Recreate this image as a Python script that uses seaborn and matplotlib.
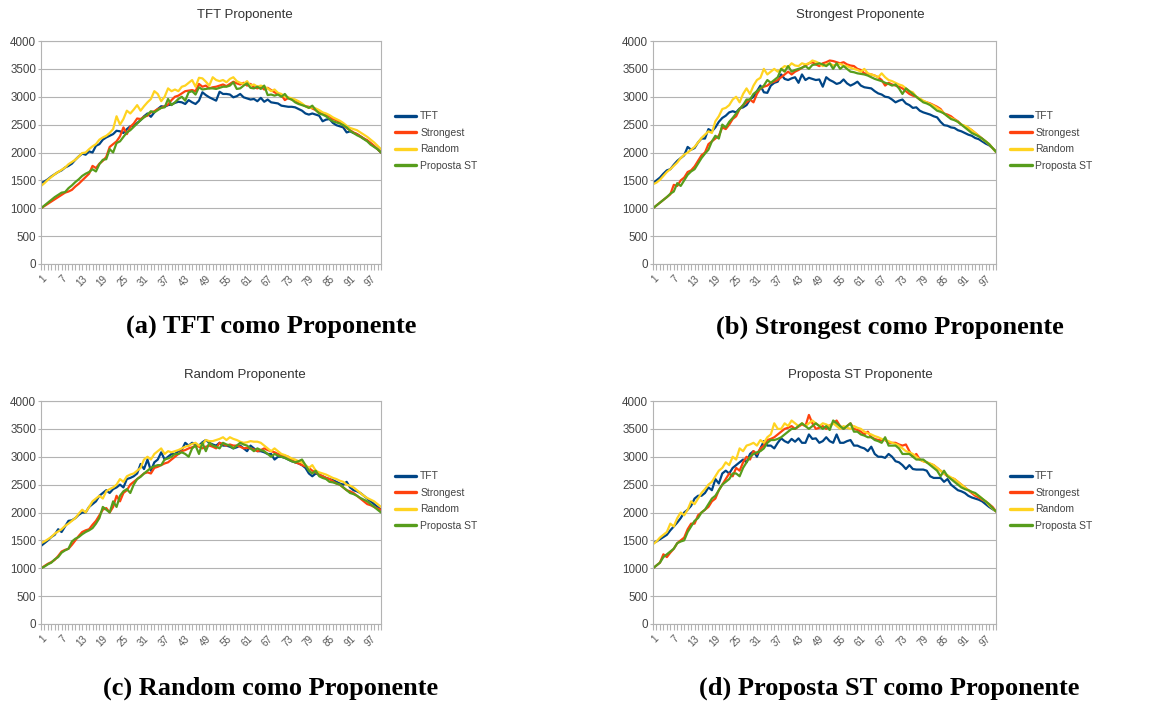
import numpy as np
import pandas as pd
import matplotlib
matplotlib.use("Agg")
import matplotlib.pyplot as plt
import seaborn as sns

# ---------------- data ----------------
series_names = ["TFT", "Strongest", "Random", "Proposta ST"]
panel_titles = ["TFT Proponente", "Strongest Proponente", "Random Proponente", "Proposta ST Proponente"]
captions = ["(a) TFT como Proponente", "(b) Strongest como Proponente",
            "(c) Random como Proponente", "(d) Proposta ST como Proponente"]
rounds = list(range(1, 101))
tick_labels = [str(v) for v in range(1, 101, 6)]

# Panel (a) TFT Proponente
a_tft = [1450, 1480, 1520, 1570, 1610, 1650, 1680, 1730, 1760, 1800,
         1870, 1930, 1980, 1960, 2020, 2000, 2120, 2150, 2230, 2270,
         2300, 2330, 2390, 2380, 2350, 2420, 2470, 2480, 2530, 2580,
         2650, 2700, 2640, 2720, 2780, 2830, 2820, 2850, 2860, 2890,
         2910, 2900, 2870, 2940, 2900, 2870, 2930, 3080, 3030, 2990,
         2960, 2930, 3090, 3050, 3050, 3040, 2990, 3010, 3050, 2990,
         2970, 2950, 2960, 2920, 2980, 2910, 2950, 2900, 2890, 2880,
         2840, 2830, 2820, 2820, 2810, 2780, 2750, 2700, 2680, 2700,
         2680, 2660, 2560, 2590, 2600, 2530, 2490, 2470, 2450, 2360,
         2380, 2350, 2330, 2290, 2250, 2210, 2160, 2110, 2060, 2000]
a_strongest = [1000, 1040, 1080, 1120, 1160, 1200, 1240, 1280, 1300, 1330,
               1390, 1440, 1500, 1560, 1620, 1760, 1720, 1800, 1850, 1920,
               2100, 2150, 2200, 2290, 2450, 2330, 2460, 2520, 2610, 2600,
               2640, 2660, 2720, 2740, 2780, 2800, 2830, 2860, 2940, 3000,
               3020, 3060, 3100, 3110, 3120, 3100, 3230, 3180, 3200, 3150,
               3170, 3180, 3200, 3220, 3190, 3230, 3270, 3240, 3220, 3250,
               3200, 3230, 3170, 3150, 3180, 3130, 3160, 3120, 3080, 3050,
               3030, 2940, 2980, 2950, 2940, 2900, 2860, 2830, 2820, 2790,
               2760, 2720, 2700, 2680, 2650, 2600, 2580, 2540, 2490, 2440,
               2400, 2360, 2330, 2290, 2250, 2220, 2170, 2120, 2060, 2000]
a_random = [1400, 1450, 1510, 1560, 1610, 1650, 1690, 1730, 1790, 1830,
            1870, 1930, 1990, 2000, 2060, 2110, 2150, 2230, 2270, 2300,
            2350, 2420, 2650, 2500, 2600, 2750, 2700, 2770, 2850, 2750,
            2830, 2900, 2960, 3100, 3050, 2920, 3000, 3150, 3100, 3130,
            3100, 3180, 3200, 3250, 3300, 3180, 3340, 3330, 3270, 3200,
            3350, 3300, 3280, 3300, 3260, 3320, 3350, 3280, 3250, 3230,
            3280, 3200, 3220, 3180, 3200, 3180, 3150, 3100, 3130, 3070,
            3050, 3000, 2990, 2970, 2950, 2920, 2880, 2830, 2800, 2810,
            2790, 2760, 2720, 2700, 2670, 2630, 2600, 2570, 2530, 2480,
            2440, 2420, 2400, 2360, 2320, 2280, 2230, 2180, 2120, 2060]
a_proposta = [1000, 1050, 1100, 1150, 1200, 1240, 1280, 1290, 1360, 1410,
              1470, 1520, 1580, 1620, 1650, 1700, 1660, 1790, 1870, 1880,
              2060, 2000, 2170, 2200, 2280, 2360, 2400, 2460, 2520, 2580,
              2630, 2680, 2740, 2720, 2760, 2800, 2810, 2960, 2850, 2900,
              2960, 3000, 2930, 3080, 3100, 3040, 3170, 3130, 3140, 3150,
              3150, 3140, 3160, 3180, 3180, 3200, 3260, 3140, 3150, 3200,
              3240, 3160, 3150, 3180, 3140, 3200, 3030, 3040, 3020, 3040,
              3000, 3050, 2970, 2950, 2900, 2870, 2850, 2830, 2800, 2840,
              2760, 2700, 2680, 2650, 2600, 2560, 2540, 2520, 2490, 2450,
              2390, 2350, 2310, 2280, 2240, 2200, 2140, 2100, 2060, 2000]

# Panel (b) Strongest Proponente
b_tft = [1450, 1500, 1550, 1620, 1680, 1700, 1780, 1850, 1900, 1950,
         2100, 2050, 2080, 2180, 2250, 2250, 2420, 2380, 2450, 2550,
         2620, 2660, 2720, 2740, 2720, 2790, 2810, 2850, 2950, 3000,
         3100, 3200, 3080, 3070, 3200, 3250, 3270, 3400, 3320, 3300,
         3330, 3350, 3250, 3400, 3300, 3340, 3320, 3300, 3310, 3180,
         3350, 3300, 3270, 3230, 3250, 3310, 3240, 3200, 3230, 3270,
         3200, 3170, 3160, 3150, 3100, 3060, 3040, 3000, 2990, 2950,
         2900, 2930, 2950, 2880, 2850, 2800, 2810, 2750, 2720, 2700,
         2680, 2650, 2630, 2550, 2490, 2480, 2450, 2440, 2400, 2380,
         2350, 2320, 2300, 2260, 2240, 2200, 2160, 2130, 2080, 2020]
b_strongest = [1000, 1050, 1100, 1150, 1200, 1250, 1420, 1400, 1500, 1550,
               1650, 1680, 1750, 1850, 1950, 2000, 2150, 2200, 2250, 2300,
               2450, 2420, 2500, 2600, 2650, 2780, 2850, 2900, 2950, 2900,
               3050, 3150, 3180, 3200, 3250, 3270, 3300, 3350, 3400, 3450,
               3400, 3450, 3480, 3520, 3560, 3600, 3620, 3580, 3550, 3600,
               3620, 3650, 3640, 3620, 3600, 3620, 3580, 3560, 3550, 3500,
               3480, 3420, 3410, 3400, 3380, 3350, 3300, 3200, 3250, 3220,
               3200, 3180, 3150, 3100, 3050, 3020, 3000, 2950, 2920, 2900,
               2880, 2850, 2820, 2780, 2700, 2680, 2650, 2600, 2560, 2500,
               2470, 2440, 2400, 2350, 2300, 2250, 2200, 2150, 2080, 2010]
b_random = [1430, 1460, 1510, 1580, 1650, 1700, 1760, 1820, 1900, 1960,
            2000, 2050, 2100, 2180, 2260, 2320, 2380, 2350, 2560, 2650,
            2780, 2800, 2850, 2950, 3000, 2900, 3050, 3150, 3050, 3200,
            3300, 3340, 3500, 3400, 3450, 3500, 3450, 3500, 3550, 3530,
            3600, 3560, 3550, 3600, 3580, 3600, 3650, 3630, 3600, 3550,
            3580, 3600, 3560, 3580, 3590, 3560, 3550, 3520, 3500, 3480,
            3450, 3500, 3420, 3400, 3380, 3350, 3420, 3350, 3300, 3280,
            3250, 3220, 3200, 3150, 3100, 3080, 3000, 2970, 2930, 2900,
            2870, 2840, 2800, 2760, 2700, 2650, 2620, 2590, 2550, 2500,
            2480, 2450, 2400, 2350, 2300, 2240, 2200, 2150, 2080, 2010]
b_proposta = [1000, 1050, 1100, 1150, 1200, 1260, 1300, 1450, 1400, 1500,
              1600, 1660, 1700, 1800, 1900, 1980, 2050, 2200, 2300, 2250,
              2500, 2450, 2550, 2620, 2700, 2780, 2850, 2950, 2950, 3050,
              3100, 3150, 3200, 3300, 3250, 3300, 3350, 3500, 3450, 3550,
              3450, 3480, 3500, 3520, 3550, 3500, 3570, 3580, 3600, 3580,
              3550, 3600, 3500, 3600, 3500, 3550, 3500, 3450, 3440, 3420,
              3410, 3400, 3380, 3350, 3320, 3300, 3280, 3250, 3230, 3200,
              3220, 3150, 3050, 3150, 3100, 3050, 3000, 2950, 2900, 2880,
              2850, 2800, 2750, 2730, 2700, 2650, 2600, 2580, 2550, 2500,
              2450, 2400, 2350, 2320, 2290, 2250, 2200, 2150, 2080, 2010]

# Panel (c) Random Proponente
c_tft = [1400, 1450, 1500, 1560, 1600, 1700, 1650, 1750, 1850, 1860,
         1900, 1960, 2000, 2000, 2100, 2150, 2200, 2300, 2350, 2400,
         2350, 2420, 2450, 2500, 2450, 2600, 2620, 2650, 2700, 2870,
         2780, 2950, 2750, 2900, 2950, 3080, 2950, 3000, 3050, 3050,
         3100, 3120, 3250, 3200, 3250, 3220, 3200, 3260, 3300, 3250,
         3220, 3200, 3250, 3200, 3200, 3180, 3150, 3170, 3200, 3150,
         3100, 3200, 3150, 3100, 3100, 3080, 3050, 3050, 2950, 3000,
         3000, 2980, 2950, 2920, 2900, 2880, 2850, 2800, 2700, 2650,
         2700, 2680, 2650, 2620, 2600, 2580, 2550, 2520, 2500, 2550,
         2450, 2400, 2380, 2350, 2300, 2250, 2200, 2150, 2100, 2050]
c_strongest = [1000, 1040, 1080, 1110, 1150, 1220, 1300, 1330, 1350, 1420,
               1500, 1580, 1650, 1680, 1700, 1780, 1850, 1950, 2050, 2080,
               2000, 2100, 2300, 2200, 2350, 2400, 2500, 2550, 2600, 2650,
               2700, 2720, 2700, 2800, 2820, 2850, 2880, 2900, 2950, 3000,
               3050, 3100, 3120, 3150, 3170, 3200, 3180, 3150, 3180, 3200,
               3180, 3150, 3250, 3230, 3200, 3220, 3200, 3200, 3180, 3150,
               3160, 3150, 3130, 3100, 3120, 3150, 3120, 3100, 3080, 3050,
               3030, 3020, 3000, 2950, 2900, 2880, 2850, 2830, 2800, 2750,
               2720, 2680, 2650, 2620, 2600, 2560, 2520, 2500, 2450, 2400,
               2380, 2350, 2300, 2250, 2200, 2150, 2130, 2100, 2070, 2050]
c_random = [1450, 1480, 1520, 1560, 1620, 1660, 1700, 1760, 1800, 1850,
            1900, 1980, 2050, 2000, 2100, 2200, 2250, 2300, 2250, 2380,
            2420, 2450, 2500, 2600, 2550, 2650, 2680, 2700, 2750, 2800,
            2950, 3000, 2950, 3050, 3100, 3150, 3050, 3100, 3080, 3100,
            3120, 3150, 3180, 3200, 3230, 3250, 3200, 3220, 3300, 3280,
            3280, 3300, 3320, 3350, 3300, 3350, 3320, 3300, 3270, 3250,
            3260, 3280, 3270, 3270, 3250, 3200, 3150, 3100, 3150, 3100,
            3050, 3030, 3000, 2970, 2950, 2920, 2900, 2850, 2800, 2850,
            2750, 2720, 2700, 2680, 2650, 2620, 2600, 2570, 2550, 2500,
            2480, 2450, 2400, 2350, 2300, 2260, 2230, 2200, 2150, 2100]
c_proposta = [1000, 1030, 1070, 1100, 1160, 1200, 1280, 1320, 1350, 1480,
              1530, 1560, 1610, 1650, 1680, 1720, 1800, 1900, 2100, 2050,
              2000, 2200, 2100, 2300, 2380, 2420, 2350, 2500, 2600, 2640,
              2700, 2750, 2800, 2830, 2850, 2850, 2950, 2970, 3000, 3050,
              3050, 3080, 3050, 3000, 3150, 3200, 3050, 3250, 3100, 3250,
              3200, 3180, 3150, 3250, 3220, 3200, 3150, 3200, 3250, 3220,
              3200, 3150, 3100, 3150, 3120, 3100, 3050, 3000, 3050, 3020,
              3000, 2980, 2950, 2920, 2900, 2920, 2950, 2850, 2750, 2700,
              2750, 2650, 2620, 2600, 2550, 2540, 2520, 2500, 2450, 2400,
              2350, 2330, 2300, 2260, 2230, 2200, 2150, 2100, 2050, 2000]

# Panel (d) Proposta ST Proponente
d_tft = [1450, 1480, 1520, 1560, 1600, 1680, 1750, 1820, 1900, 2000,
         2050, 2120, 2250, 2300, 2300, 2350, 2450, 2400, 2600, 2520,
         2700, 2750, 2700, 2800, 2850, 2900, 2950, 2900, 3050, 3100,
         3000, 3150, 3280, 3200, 3200, 3150, 3250, 3330, 3280, 3250,
         3320, 3270, 3330, 3250, 3250, 3400, 3320, 3330, 3250, 3280,
         3350, 3280, 3250, 3400, 3250, 3250, 3280, 3300, 3200, 3200,
         3170, 3150, 3100, 3180, 3050, 3000, 3000, 2980, 3050, 3000,
         2920, 2900, 2850, 2780, 2850, 2780, 2770, 2770, 2770, 2750,
         2650, 2620, 2620, 2620, 2550, 2600, 2500, 2450, 2400, 2380,
         2350, 2300, 2270, 2250, 2230, 2200, 2150, 2100, 2060, 2020]
d_strongest = [1000, 1050, 1100, 1250, 1200, 1280, 1350, 1450, 1500, 1550,
               1700, 1800, 1800, 1950, 2000, 2050, 2100, 2200, 2250, 2400,
               2500, 2600, 2700, 2650, 2800, 2750, 2900, 3000, 2950, 3100,
               3050, 3150, 3200, 3300, 3320, 3350, 3400, 3450, 3500, 3520,
               3550, 3500, 3540, 3580, 3550, 3750, 3600, 3500, 3520, 3550,
               3500, 3560, 3600, 3650, 3550, 3500, 3550, 3600, 3500, 3480,
               3450, 3400, 3450, 3350, 3320, 3300, 3300, 3300, 3250, 3250,
               3250, 3220, 3200, 3220, 3100, 3000, 3050, 2950, 2920, 2900,
               2870, 2850, 2800, 2750, 2700, 2650, 2620, 2600, 2550, 2500,
               2450, 2400, 2350, 2300, 2270, 2230, 2200, 2150, 2100, 2020]
d_random = [1430, 1480, 1550, 1600, 1650, 1800, 1750, 1900, 2000, 1950,
            2050, 2200, 2150, 2250, 2350, 2420, 2500, 2550, 2650, 2750,
            2800, 2900, 2850, 3000, 2950, 3150, 3100, 3200, 3220, 3250,
            3200, 3300, 3250, 3350, 3400, 3600, 3500, 3500, 3600, 3550,
            3650, 3600, 3550, 3600, 3550, 3600, 3650, 3600, 3550, 3600,
            3580, 3550, 3600, 3550, 3500, 3550, 3520, 3500, 3550, 3520,
            3500, 3450, 3420, 3400, 3370, 3350, 3320, 3300, 3280, 3250,
            3230, 3200, 3150, 3100, 3080, 3050, 3000, 2950, 2920, 2900,
            2880, 2850, 2800, 2750, 2700, 2670, 2630, 2600, 2550, 2500,
            2450, 2400, 2370, 2330, 2300, 2250, 2200, 2130, 2070, 2020]
d_proposta = [1000, 1050, 1100, 1200, 1250, 1300, 1350, 1450, 1480, 1500,
              1650, 1750, 1850, 1900, 2000, 2050, 2150, 2250, 2300, 2400,
              2500, 2550, 2600, 2700, 2700, 2650, 2800, 2900, 3000, 3050,
              3080, 3100, 3150, 3250, 3300, 3300, 3320, 3350, 3400, 3450,
              3500, 3500, 3550, 3600, 3550, 3500, 3550, 3600, 3550, 3500,
              3550, 3480, 3650, 3600, 3550, 3500, 3550, 3600, 3450, 3450,
              3400, 3380, 3350, 3350, 3300, 3280, 3250, 3350, 3200, 3200,
              3200, 3150, 3050, 3050, 3050, 3000, 2950, 2950, 2950, 2900,
              2850, 2800, 2750, 2650, 2750, 2650, 2600, 2550, 2500, 2450,
              2420, 2400, 2370, 2350, 2300, 2250, 2200, 2150, 2080, 2020]

panels = [
    [a_tft, a_strongest, a_random, a_proposta],
    [b_tft, b_strongest, b_random, b_proposta],
    [c_tft, c_strongest, c_random, c_proposta],
    [d_tft, d_strongest, d_random, d_proposta],
]

colors = ["#004586", "#ff420e", "#ffd320", "#579d1c"]

# ---------------- style ----------------
sns.set_theme(style="white")
plt.rcParams["font.family"] = ["Liberation Sans", "DejaVu Sans"]

W, H = 1157, 704
fig = plt.figure(figsize=(W / 100, H / 100), dpi=100)

# axes rectangles in pixels: (left, top, right, bottom)
rects = [(41, 41, 381, 264), (653, 41, 996, 264),
         (41, 401, 381, 624), (653, 401, 996, 624)]
title_pos = [(245, 15), (860, 15), (245, 375), (860, 375)]
caption_pos = [(271, 327), (890, 327), (271, 688), (889, 688)]

grid_col = "#b3b3b3"
text_col = "#444444"

for k in range(4):
    l, t, r, b = rects[k]
    ax = fig.add_axes([l / W, 1 - b / H, (r - l) / W, (b - t) / H])
    rows = []
    for name, vals in zip(series_names, panels[k]):
        for x, v in zip(rounds, vals):
            rows.append((x, v, name))
    df = pd.DataFrame(rows, columns=["round", "value", "series"])
    sns.lineplot(data=df, x="round", y="value", hue="series",
                 hue_order=series_names, palette=colors, linewidth=1.6,
                 ax=ax, legend=True)
    ax.set_xlim(1, 100)
    ax.set_ylim(0, 4000)
    ax.set_yticks(range(0, 4001, 500))
    ax.set_xticks(range(1, 101, 6))
    ax.set_xticklabels(tick_labels, rotation=45, ha="right",
                       rotation_mode="anchor", fontsize=7, color="#555555")
    ax.set_xticks(range(1, 101), minor=True)
    ax.tick_params(axis="y", labelsize=8.4, colors=text_col, length=2.5,
                   width=0.8, color=grid_col, pad=1.0, left=True)
    ax.tick_params(axis="x", which="both", length=4, width=0.8,
                   color=grid_col, bottom=True, pad=3)
    ax.grid(axis="y", color=grid_col, linewidth=0.8)
    ax.grid(axis="x", visible=False)
    for s in ax.spines.values():
        s.set_color(grid_col)
        s.set_linewidth(0.8)
    ax.set_xlabel("")
    ax.set_ylabel("")
    handles, labels = ax.get_legend_handles_labels()
    leg = ax.legend(handles, labels, loc="upper left",
                    bbox_to_anchor=(1.04, 0.684), frameon=False,
                    borderaxespad=0, borderpad=0, fontsize=7.5,
                    handlelength=2.1, handletextpad=0.35, labelspacing=0.62)
    for line in leg.get_lines():
        line.set_linewidth(2.4)
    for txt in leg.get_texts():
        txt.set_color(text_col)

    tx, ty = title_pos[k]
    fig.text(tx / W, 1 - ty / H, panel_titles[k], ha="center", va="center",
             fontsize=9.5, color="#333333")
    cx, cy = caption_pos[k]
    fig.text(cx / W, 1 - cy / H, captions[k], ha="center", va="center",
             fontsize=19, fontweight="bold",
             family=["Liberation Serif", "DejaVu Serif"], color="black")

fig.savefig("out.png", dpi=100)
